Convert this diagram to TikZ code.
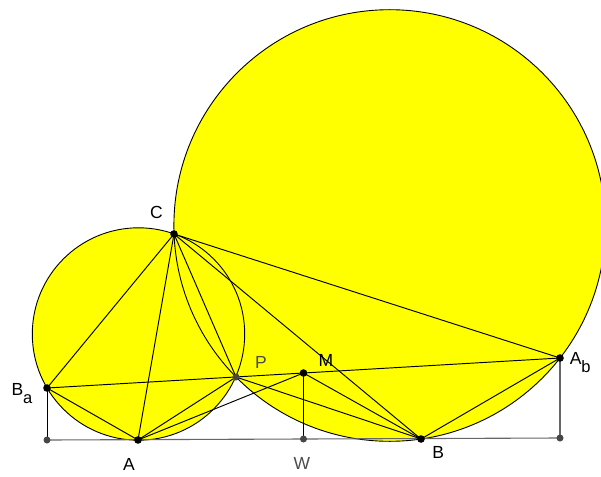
\documentclass[tikz,border=0pt]{standalone}
\usepackage{fontspec}
\setmainfont{Liberation Sans}
\definecolor{discyellow}{RGB}{255,255,0}

\begin{document}
\begin{tikzpicture}[
  x=1pt, y=-1pt,
  font=\fontsize{17.5}{19}\selectfont,
  disc/.style={fill=discyellow},
  rim/.style={draw=black, line width=0.9pt},
  seg/.style={line width=0.95pt},
  base/.style={line width=1.1pt, draw=black!60},
  dot/.style={fill=black},
  gdot/.style={fill=black!72},
  lbl/.style={inner sep=0pt, anchor=center},
  glbl/.style={lbl, text=black!70}
]
\useasboundingbox (0,0) rectangle (601,476);
\clip (0,0) rectangle (601,476);

% points
\coordinate (C) at (174,234);
\coordinate (A) at (138,440);
\coordinate (B) at (421,439);
\coordinate (Ba) at (47,388);
\coordinate (Ab) at (560,358);
\coordinate (P) at (236,377);
\coordinate (M) at (303.5,373);
\coordinate (W) at (303.5,439);
\coordinate (Ba0) at (47,440);
\coordinate (Ab0) at (560,438);
\coordinate (Osmall) at (138.5,334);
\coordinate (Obig) at (389.7,225.5);

% the two circles
\fill[disc] (Obig) circle (215.8);
\fill[disc] (Osmall) circle (106.2);
\draw[rim] (Obig) circle (215.8);
\draw[rim] (Osmall) circle (106.2);

% base line and perpendiculars
\draw[base] (Ba0) -- (Ab0);
\draw[seg] (Ba) -- (Ba0);
\draw[base] (Ab) -- (Ab0);
\draw[seg] (M) -- (W);

% segments
\draw[seg] (Ba) -- (Ab);
\draw[seg] (C) -- (Ba);
\draw[seg] (C) -- (A);
\draw[seg] (C) -- (P);
\draw[seg] (C) -- (B);
\draw[seg] (C) -- (Ab);
\draw[seg] (Ba) -- (A);
\draw[seg] (A) -- (P);
\draw[seg] (P) -- (B);
\draw[seg] (A) -- (M);
\draw[seg] (M) -- (B);
\draw[seg] (Ab) -- (B);

% dots
\foreach \p in {C,A,B,Ba,Ab,M}
  \fill[dot] (\p) circle (3.8);
\foreach \p in {P,W,Ba0,Ab0}
  \fill[gdot] (\p) circle (3.5);

% labels
\node[lbl] (lblC) at (156.5,212.7) {C};
\node[lbl] (lblA) at (129,464.3) {A};
\node[lbl] (lblB) at (438.3,452.7) {B};
\node[lbl] (lblM) at (326,360) {M};
\node[glbl] (lblP) at (261,362) {P};
\node[glbl] (lblW) at (302,463.7) {W};
\node[inner sep=0pt, anchor=base west] (lblBa) at (11.3,395)
  {B\raisebox{-8pt}{\fontsize{16.5}{16}\selectfont a}};
\node[inner sep=0pt, anchor=base west] (lblAb) at (569.6,364)
  {A\raisebox{-8.7pt}{\fontsize{16.5}{16}\selectfont b}};

\end{tikzpicture}
\end{document}
